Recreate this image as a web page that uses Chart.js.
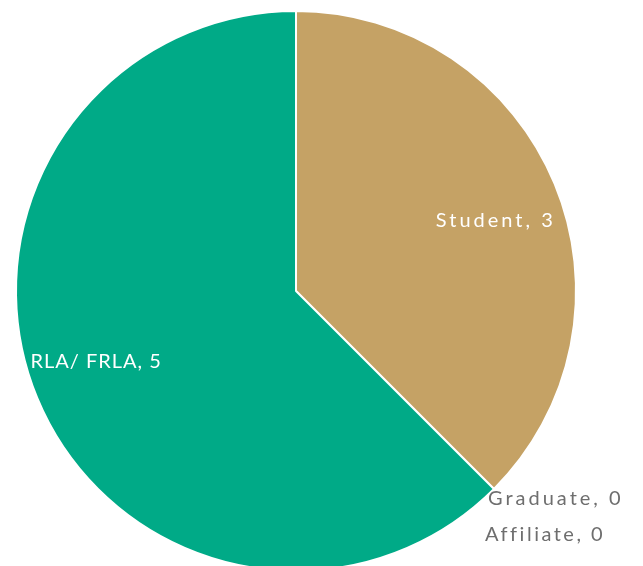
<!DOCTYPE html>
<html>
<head>
<meta charset="utf-8">
<script src="https://cdn.jsdelivr.net/npm/chart.js@4.4.1/dist/chart.umd.min.js"></script>
<style>
  html, body { margin: 0; padding: 0; background: #fff; overflow: hidden; }
  #wrap { position: relative; width: 643px; height: 572px; }
</style>
</head>
<body>
<div id="wrap"><canvas id="chart1"></canvas></div>
<script>
// data (in slice order, clockwise from the top)
var categories = ['Student', 'Graduate', 'Affiliate', 'RLA/ FRLA'];
var counts = [3, 0, 0, 5];
var sliceColors = ['#c5a265', '#8e8e8e', '#5f5f5f', '#00aa87'];
// the capitals label sits tighter than the others
var labelSpacing = ['3px', '3px', '2.5px', '1px'];

// draws "Name, value" labels like the office pie labels
var pieLabels = {
  id: 'pieLabels',
  afterDatasetsDraw: function(chart) {
    var ctx = chart.ctx;
    var meta = chart.getDatasetMeta(0);
    var zeroRow = 0;
    ctx.save();
    ctx.font = '20px Lato, "Open Sans", sans-serif';
    ctx.textBaseline = 'middle';
    meta.data.forEach(function(arc, i) {
      var text = categories[i] + ', ' + counts[i];
      var mid = (arc.startAngle + arc.endAngle) / 2;
      ctx.letterSpacing = labelSpacing[i];
      if (counts[i] > 0) {
        var r = arc.outerRadius * 0.75;
        ctx.fillStyle = '#ffffff';
        ctx.textAlign = 'center';
        ctx.fillText(text, arc.x + Math.cos(mid) * r * 1.03, arc.y + Math.sin(mid) * r * 0.88);
      } else {
        var px = arc.x + Math.cos(arc.startAngle) * arc.outerRadius;
        var py = arc.y + Math.sin(arc.startAngle) * arc.outerRadius;
        ctx.fillStyle = '#6e6e6e';
        ctx.textAlign = 'left';
        ctx.fillText(text, px - 6 - zeroRow * 3, py + 10 + zeroRow * 36);
        zeroRow++;
      }
    });
    ctx.restore();
  }
};

var ctx = document.getElementById('chart1').getContext('2d');
var myChart = new Chart(ctx, {
  type: 'pie',
  data: {
    labels: categories,
    datasets: [{
      data: counts,
      backgroundColor: sliceColors,
      borderColor: '#ffffff',
      borderWidth: 2
    }]
  },
  options: {
    responsive: true,
    maintainAspectRatio: false,
    animation: false,
    layout: {
      padding: { left: 15, right: 66, top: 10, bottom: 0 }
    },
    plugins: {
      legend: { display: false },
      tooltip: { enabled: false }
    }
  },
  plugins: [pieLabels]
});
</script>
</body>
</html>
